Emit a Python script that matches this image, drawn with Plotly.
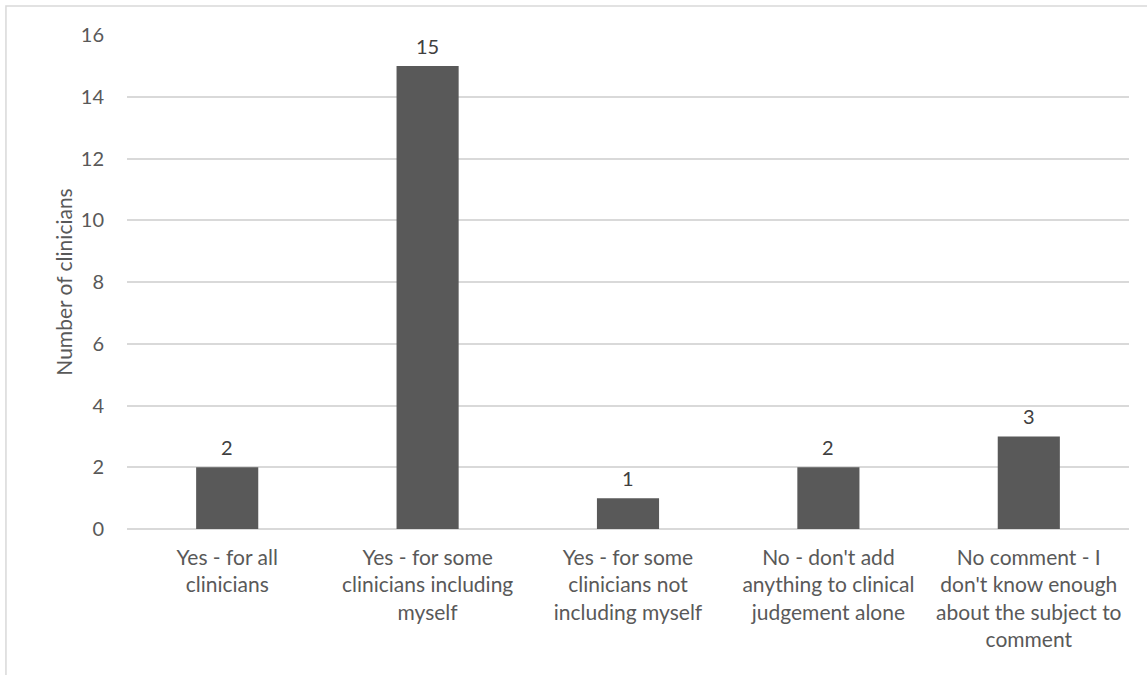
import plotly.graph_objects as go

# Survey responses: would the tool be useful?
categories = [
    "Yes - for all<br>clinicians",
    "Yes - for some<br>clinicians including<br>myself",
    "Yes - for some<br>clinicians not<br>including myself",
    "No - don't add<br>anything to clinical<br>judgement alone",
    "No comment - I<br>don't know enough<br>about the subject to<br>comment",
]
counts = [2, 15, 1, 2, 3]
y_ticks = [0, 2, 4, 6, 8, 10, 12, 14, 16]

FONT = "Lato, Open Sans, sans-serif"
FS = 21
TICK_COLOR = "#595959"
LABEL_COLOR = "#404040"
GRID = "#d9d9d9"

fig = go.Figure(
    go.Bar(
        x=categories,
        y=counts,
        marker=dict(color="#595959", line=dict(width=0)),
        width=0.31,
        hoverinfo="skip",
    )
)

# value labels above each bar
for cat, val in zip(categories, counts):
    fig.add_annotation(
        x=cat, y=val, text=str(val), showarrow=False,
        yanchor="bottom", yshift=6,
        font=dict(family=FONT, size=FS - 1, color=LABEL_COLOR),
    )

# light outer frame of the chart
fig.add_shape(
    type="rect", xref="paper", yref="paper",
    x0=-0.1208, x1=1.2, y0=-0.5, y1=1.0587,
    line=dict(color=GRID, width=1.5), fillcolor="rgba(0,0,0,0)",
    layer="below",
)

fig.update_layout(
    width=1147, height=675,
    margin=dict(l=127, r=18, t=35, b=146),
    paper_bgcolor="white", plot_bgcolor="white",
    showlegend=False,
    font=dict(family=FONT, size=FS, color=TICK_COLOR),
    xaxis=dict(
        showgrid=False, showline=False, zeroline=False,
        ticks="", ticklabelstandoff=14,
        tickfont=dict(size=FS, color=TICK_COLOR),
        fixedrange=True,
    ),
    yaxis=dict(
        range=[0, 16], tickvals=y_ticks,
        showgrid=True, gridcolor=GRID, gridwidth=1.5,
        zeroline=True, zerolinecolor=GRID, zerolinewidth=1.5,
        showline=False, ticks="",
        ticklabelstandoff=22,
        tickfont=dict(size=FS - 1, color=TICK_COLOR),
        title=dict(text="Number of clinicians", font=dict(size=FS, color=TICK_COLOR), standoff=2),
        fixedrange=True,
    ),
)

fig.write_html("out.html")
